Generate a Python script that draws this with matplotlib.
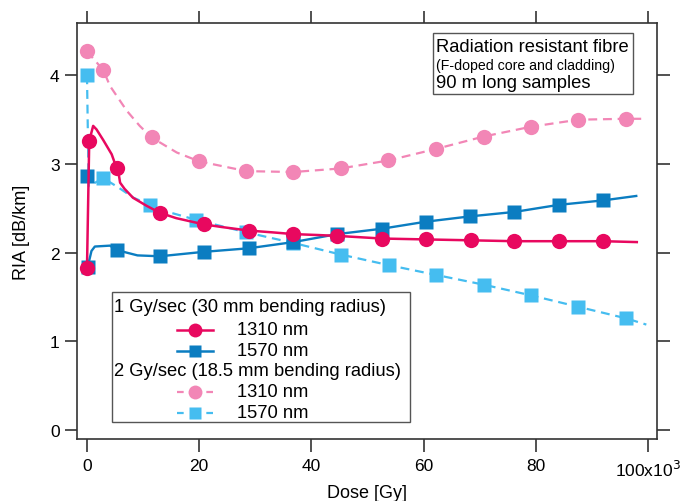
import numpy as np
import matplotlib
matplotlib.use("Agg")
import matplotlib.pyplot as plt
from matplotlib.patches import Rectangle

plt.rcParams['font.family'] = ['Liberation Sans', 'DejaVu Sans']

# dose in kGy, RIA in dB/km
# 1 Gy/sec, 1310 nm - continuous trace and marker points
dose_1g_1310 = [0, 0.4, 1.1, 1.7, 2.9, 4.4, 5.3, 5.7, 5.9, 6.7, 8.2, 10.6, 13, 15.9,
                20.8, 24, 28.8, 33, 36.8, 41, 44.6, 52.6, 60.4, 68.4, 76.2, 84.2, 92, 98]
ria_1g_1310 = [1.83, 3.26, 3.43, 3.39, 3.27, 3.11, 2.95, 2.87, 2.79, 2.72, 2.62, 2.53, 2.45, 2.39,
               2.32, 2.29, 2.25, 2.23, 2.21, 2.20, 2.19, 2.16, 2.15, 2.14, 2.13, 2.13, 2.13, 2.12]
mdose_1g_1310 = [0, 0.4, 5.3, 13, 20.8, 28.8, 36.8, 44.6, 52.6, 60.4, 68.4, 76.2, 84.2, 92]
mria_1g_1310 = [1.83, 3.26, 2.95, 2.45, 2.32, 2.25, 2.21, 2.19, 2.16, 2.15, 2.14, 2.13, 2.13, 2.13]

# 1 Gy/sec, 1570 nm
dose_1g_1570 = [0, 0.2, 0.8, 1.4, 4.1, 5.3, 9, 13, 20.8, 28.8, 36.8, 44.6, 52.5, 60.4,
                68.3, 76.2, 84.1, 92, 97.9]
ria_1g_1570 = [1.84, 1.86, 2.02, 2.07, 2.08, 2.03, 1.97, 1.96, 2.01, 2.05, 2.12, 2.21, 2.27, 2.35,
               2.41, 2.46, 2.54, 2.59, 2.64]
mdose_1g_1570 = [0, 0.2, 5.3, 13, 20.8, 28.8, 36.8, 44.6, 52.5, 60.4, 68.3, 76.2, 84.1, 92]
mria_1g_1570 = [2.87, 1.84, 2.03, 1.96, 2.01, 2.05, 2.12, 2.21, 2.27, 2.35, 2.41, 2.46, 2.54, 2.59]

# 2 Gy/sec, 1310 nm
dose_2g_1310 = [0, 2.9, 4.1, 7.1, 9.4, 11.5, 16, 20, 28.4, 36.8, 45.2, 53.7, 62.2, 70.7,
                79.1, 87.6, 96, 99.4]
ria_2g_1310 = [4.27, 4.06, 3.88, 3.60, 3.43, 3.30, 3.13, 3.03, 2.92, 2.91, 2.95, 3.04, 3.17, 3.31,
               3.42, 3.50, 3.51, 3.51]
mdose_2g_1310 = [0, 2.9, 11.5, 20, 28.4, 36.8, 45.2, 53.7, 62.2, 70.7, 79.1, 87.6, 96]
mria_2g_1310 = [4.27, 4.06, 3.30, 3.03, 2.92, 2.91, 2.95, 3.04, 3.17, 3.31, 3.42, 3.50, 3.51]

# 2 Gy/sec, 1570 nm
dose_2g_1570 = [0, 0.3, 2.9, 5.5, 8.3, 11.2, 15, 19.5, 28.4, 36.8, 45.2, 53.8, 62.2, 70.7,
                79.1, 87.6, 96.1, 99.7]
ria_2g_1570 = [4.0, 2.75, 2.84, 2.74, 2.62, 2.54, 2.45, 2.37, 2.23, 2.11, 1.98, 1.86, 1.75, 1.64,
               1.52, 1.39, 1.26, 1.19]
mdose_2g_1570 = [0, 2.9, 11.2, 19.5, 28.4, 36.8, 45.2, 53.8, 62.2, 70.7, 79.1, 87.6, 96.1]
mria_2g_1570 = [4.0, 2.84, 2.54, 2.37, 2.23, 2.11, 1.98, 1.86, 1.75, 1.64, 1.52, 1.39, 1.26]

x_ticks = [0, 20, 40, 60, 80, 100]
x_ticklabels = ['0', '20', '40', '60', '80', '100x10$^3$']
y_ticks = [0, 1, 2, 3, 4]

c_red = '#e8085f'
c_blue = '#0b7dc1'
c_pink = '#f286b6'
c_sky = '#45bdf0'

W, H = 681, 502
fig = plt.figure(figsize=(W / 100, H / 100), dpi=100)
ax = fig.add_axes([77 / W, 1 - 440 / H, (657 - 77) / W, (440 - 24) / H])

k = 1e3
dash = (4.0, 2.6)
ax.plot(np.array(dose_2g_1310) * k, ria_2g_1310, color=c_pink, lw=1.6, dashes=dash)
ax.plot(np.array(mdose_2g_1310) * k, mria_2g_1310, 'o', color=c_pink, ms=11, mec='none')
ax.plot(np.array(dose_2g_1570) * k, ria_2g_1570, color=c_sky, lw=1.6, dashes=dash)
ax.plot(np.array(mdose_2g_1570) * k, mria_2g_1570, 's', color=c_sky, ms=10, mec='none')
ax.plot(np.array(dose_1g_1570) * k, ria_1g_1570, color=c_blue, lw=1.7)
ax.plot(np.array(mdose_1g_1570) * k, mria_1g_1570, 's', color=c_blue, ms=10, mec='none')
ax.plot(np.array(dose_1g_1310) * k, ria_1g_1310, color=c_red, lw=1.8)
ax.plot(np.array(mdose_1g_1310) * k, mria_1g_1310, 'o', color=c_red, ms=11, mec='none')

ax.set_xlim(-1.78e3, 101.6e3)
ax.set_ylim(-0.10, 4.59)
ax.set_xticks(np.array(x_ticks) * k)
ax.set_xticklabels(x_ticklabels)
ax.set_yticks(y_ticks)
ax.tick_params(direction='out', length=9, width=1.1, labelsize=12.5, color='#222222',
               top=True, right=True, labeltop=False, labelright=False)
ax.tick_params(axis='x', pad=5)
for s in ax.spines.values():
    s.set_linewidth(1.2)
    s.set_color('#333333')
ax.set_xlabel('Dose [Gy]', fontsize=13, labelpad=4)
ax.set_ylabel('RIA [dB/km]', fontsize=13, labelpad=14)


def fx(px, py):
    return px / W, 1 - py / H


# info box, top right
fig.patches.append(Rectangle(fx(433, 95), 200 / W, 61 / H, transform=fig.transFigure,
                             fill=True, fc='white', ec='#555555', lw=1.0, zorder=5))
fig.text(*fx(436, 47), 'Radiation resistant fibre', fontsize=13.2, va='center', zorder=6)
fig.text(*fx(436, 66), '(F-doped core and cladding)', fontsize=10.2, va='center', zorder=6)
fig.text(*fx(436, 84), '90 m long samples', fontsize=13.2, va='center', zorder=6)

# legend, drawn by hand to get the grouped layout
fig.patches.append(Rectangle(fx(112, 423), 298 / W, 130 / H, transform=fig.transFigure,
                             fill=True, fc='white', ec='#555555', lw=1.0, zorder=5))
rows = [
    ('1 Gy/sec (30 mm bending radius)', None, None, None),
    ('1310 nm', c_red, 'o', '-'),
    ('1570 nm', c_blue, 's', '-'),
    ('2 Gy/sec (18.5 mm bending radius)', None, None, None),
    ('1310 nm', c_pink, 'o', '--'),
    ('1570 nm', c_sky, 's', '--'),
]
row_y = [308, 331, 352, 372, 393, 414]
for (label, col, mk, ls), py in zip(rows, row_y):
    if col is None:
        fig.text(*fx(114, py), label, fontsize=13.2, va='center', zorder=6)
        continue
    x0, y0 = fx(177, py)
    x1, _ = fx(213, py)
    xm, _ = fx(195, py)
    if ls == '-':
        fig.add_artist(plt.Line2D([x0, x1], [y0, y0], color=col, lw=1.8,
                                  transform=fig.transFigure, zorder=6))
    else:
        fig.add_artist(plt.Line2D([x0, x1], [y0, y0], color=col, lw=1.6, dashes=(3.0, 3.6),
                                  transform=fig.transFigure, zorder=6))
    fig.add_artist(plt.Line2D([xm], [y0], marker=mk, color=col, ms=10 if mk == 'o' else 9,
                              mec='none', transform=fig.transFigure, zorder=7))
    fig.text(*fx(237, py), label, fontsize=13.2, va='center', zorder=6)

fig.savefig('out.png', dpi=100)
